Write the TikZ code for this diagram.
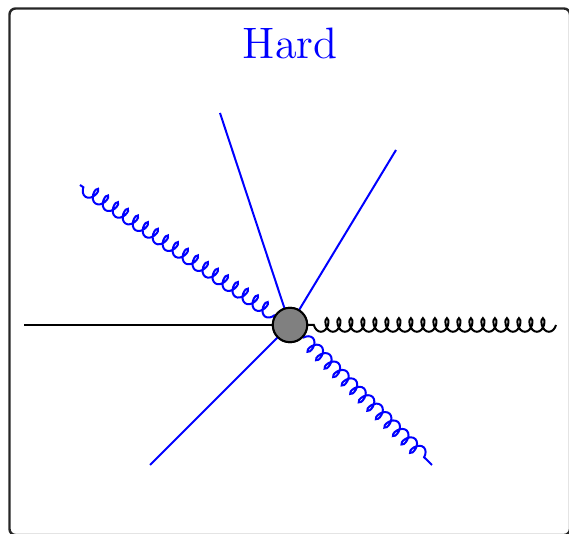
\documentclass[tikz,border=0pt]{standalone}
\usepackage{xcolor}
\usepackage{tikz}
\usetikzlibrary{decorations.pathmorphing}
\tikzset{
  frame/.style={semithick,draw=black!85,rounded corners=1.5pt},
  quark/.style={line width=0.5pt},
  gluon/.style={line width=0.5pt,decorate,
    decoration={coil,amplitude=1.7pt,segment length=3pt,aspect=0.6}},
  blob/.style={circle,draw=black,fill=gray,line width=0.5pt,
    minimum size=8.6pt,inner sep=0pt},
  title/.style={text=blue,font=\fontsize{11}{13}\selectfont}
}

\begin{document}
\begin{tikzpicture}[x=0.25pt,y=-0.25pt]
  \useasboundingbox (0,0) rectangle (569,534);
  \draw[frame] (9.5,8.5) rectangle (570,535);
  \node[title] (hd) at (290,43) {Hard};
  % outer ends
  \coordinate (lq) at (24,325);
  \coordinate (rg) at (556,325);
  \coordinate (q1) at (220,113);
  \coordinate (q2) at (396,150);
  \coordinate (q3) at (150,465);
  \coordinate (g1) at (80,185);
  \coordinate (g2) at (432,465);
  \node[blob] (v) at (290,325) {};
  \draw[quark] (lq) -- (v.center);
  \draw[quark,blue] (q1) -- (v.center);
  \draw[quark,blue] (q2) -- (v.center);
  \draw[quark,blue] (q3) -- (v.center);
  \draw[gluon] (rg) -- (v);
  \draw[gluon,blue] (v) -- (g1);
  \draw[gluon,blue] (v) -- (g2);
  \node[blob] at (v) {};
\end{tikzpicture}
\end{document}
